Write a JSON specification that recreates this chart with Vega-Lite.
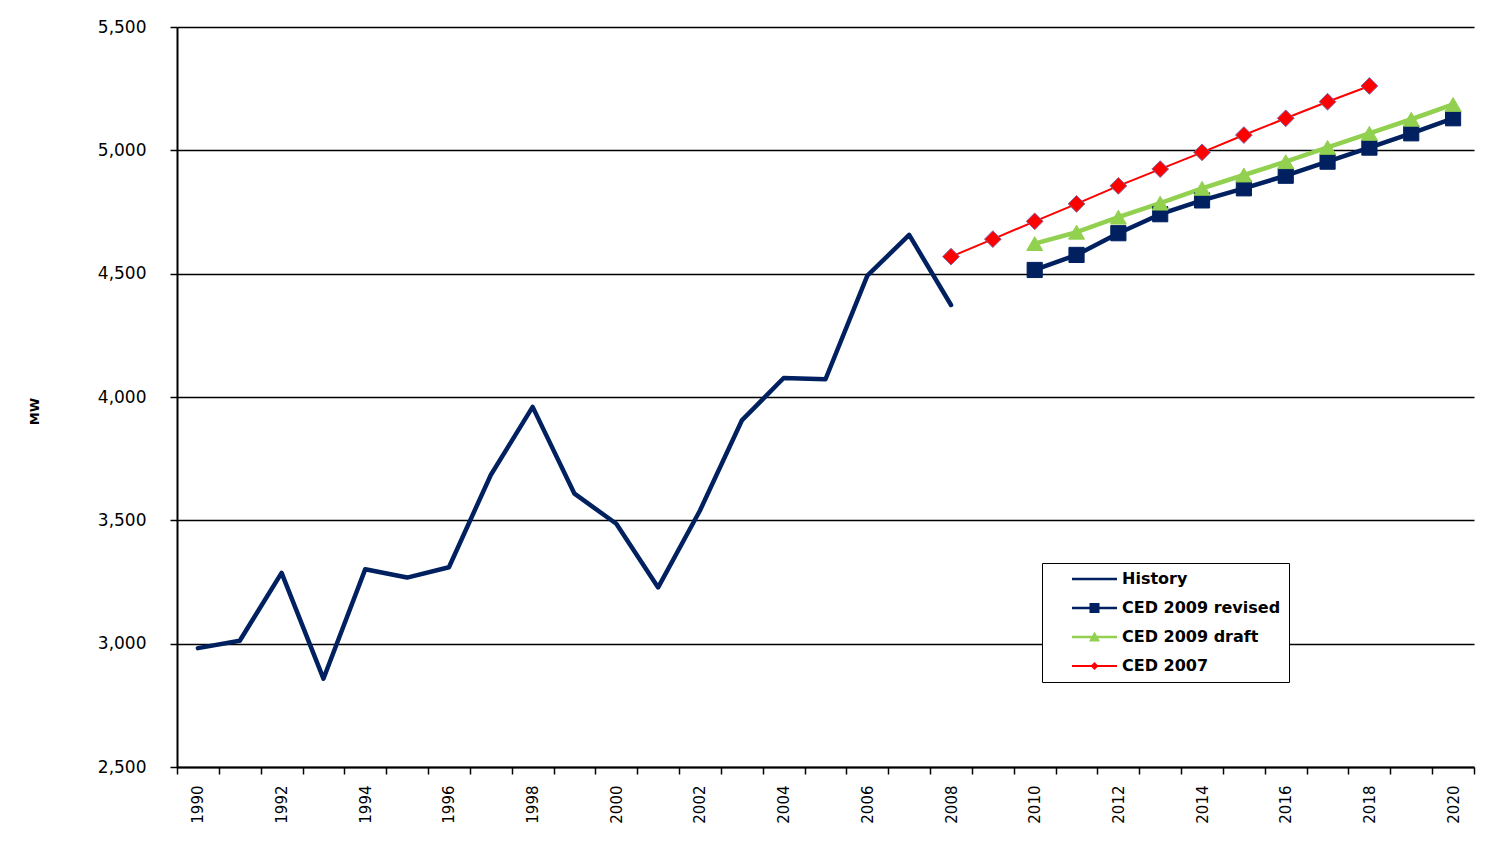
{
  "$schema": "https://vega.github.io/schema/vega-lite/v6.json",
  "width": 1297,
  "height": 740,
  "autosize": {"type": "none"},
  "padding": {"left": 177, "top": 27, "right": 31, "bottom": 76},
  "background": "white",
  "config": {"view": {"stroke": null}, "font": "DejaVu Sans"},
  "data": {"values": [
    {"year": 1990, "series": "History", "value": 2982},
    {"year": 1991, "series": "History", "value": 3012},
    {"year": 1992, "series": "History", "value": 3287},
    {"year": 1993, "series": "History", "value": 2858},
    {"year": 1994, "series": "History", "value": 3302},
    {"year": 1995, "series": "History", "value": 3268},
    {"year": 1996, "series": "History", "value": 3310},
    {"year": 1997, "series": "History", "value": 3684},
    {"year": 1998, "series": "History", "value": 3960},
    {"year": 1999, "series": "History", "value": 3608},
    {"year": 2000, "series": "History", "value": 3486},
    {"year": 2001, "series": "History", "value": 3228},
    {"year": 2002, "series": "History", "value": 3540},
    {"year": 2003, "series": "History", "value": 3905},
    {"year": 2004, "series": "History", "value": 4077},
    {"year": 2005, "series": "History", "value": 4072},
    {"year": 2006, "series": "History", "value": 4492},
    {"year": 2007, "series": "History", "value": 4657},
    {"year": 2008, "series": "History", "value": 4373},
    {"year": 2010, "series": "CED 2009 revised", "value": 4515},
    {"year": 2011, "series": "CED 2009 revised", "value": 4576},
    {"year": 2012, "series": "CED 2009 revised", "value": 4664},
    {"year": 2013, "series": "CED 2009 revised", "value": 4741},
    {"year": 2014, "series": "CED 2009 revised", "value": 4797},
    {"year": 2015, "series": "CED 2009 revised", "value": 4846},
    {"year": 2016, "series": "CED 2009 revised", "value": 4897},
    {"year": 2017, "series": "CED 2009 revised", "value": 4954},
    {"year": 2018, "series": "CED 2009 revised", "value": 5011},
    {"year": 2019, "series": "CED 2009 revised", "value": 5069},
    {"year": 2020, "series": "CED 2009 revised", "value": 5130},
    {"year": 2010, "series": "CED 2009 draft", "value": 4622},
    {"year": 2011, "series": "CED 2009 draft", "value": 4668},
    {"year": 2012, "series": "CED 2009 draft", "value": 4729},
    {"year": 2013, "series": "CED 2009 draft", "value": 4786},
    {"year": 2014, "series": "CED 2009 draft", "value": 4846},
    {"year": 2015, "series": "CED 2009 draft", "value": 4900},
    {"year": 2016, "series": "CED 2009 draft", "value": 4954},
    {"year": 2017, "series": "CED 2009 draft", "value": 5012},
    {"year": 2018, "series": "CED 2009 draft", "value": 5069},
    {"year": 2019, "series": "CED 2009 draft", "value": 5126},
    {"year": 2020, "series": "CED 2009 draft", "value": 5186},
    {"year": 2008, "series": "CED 2007", "value": 4569},
    {"year": 2009, "series": "CED 2007", "value": 4640},
    {"year": 2010, "series": "CED 2007", "value": 4712},
    {"year": 2011, "series": "CED 2007", "value": 4783},
    {"year": 2012, "series": "CED 2007", "value": 4856},
    {"year": 2013, "series": "CED 2007", "value": 4924},
    {"year": 2014, "series": "CED 2007", "value": 4992},
    {"year": 2015, "series": "CED 2007", "value": 5062},
    {"year": 2016, "series": "CED 2007", "value": 5130},
    {"year": 2017, "series": "CED 2007", "value": 5197},
    {"year": 2018, "series": "CED 2007", "value": 5261}
  ]},
  "layer": [
    {
      "transform": [{"filter": "datum.series !== 'CED 2007'"}],
      "mark": {"type": "line", "strokeCap": "round", "strokeJoin": "round", "strokeWidth": 4.5},
      "encoding": {
        "x": {
          "field": "year", "type": "ordinal",
          "scale": {"type": "band", "paddingInner": 0, "paddingOuter": 0},
          "axis": {
            "title": null, "labelAngle": -90, "labelAlign": "right", "labelBaseline": "middle",
            "labelFont": "DejaVu Sans", "labelFontSize": 15, "labelColor": "black", "labelPadding": 11,
            "labelExpr": "datum.value % 2 == 0 ? datum.label : ''",
            "labelOverlap": false, "labelFlush": false,
            "tickBand": "extent", "tickSize": 7, "tickColor": "black", "tickWidth": 1.5,
            "domainColor": "black", "domainWidth": 2, "grid": false
          }
        },
        "y": {
          "field": "value", "type": "quantitative",
          "scale": {"domain": [2500, 5500], "nice": false, "zero": false},
          "axis": {
            "title": "MW", "titleFont": "DejaVu Sans", "titleFontWeight": "bold", "titleFontSize": 13,
            "titleColor": "black", "titleX": -143, "titleY": 384, "titleAlign": "center", "titleBaseline": "middle",
            "values": [2500, 3000, 3500, 4000, 4500, 5000, 5500], "format": ",d",
            "labelFont": "DejaVu Sans", "labelFontSize": 17, "labelColor": "black", "labelPadding": 24,
            "tickSize": 7, "tickColor": "black", "tickWidth": 1.5,
            "domainColor": "black", "domainWidth": 2,
            "grid": true, "gridColor": "black", "gridWidth": 1.3, "gridOpacity": 1
          }
        },
        "color": {
          "field": "series", "type": "nominal",
          "scale": {"domain": ["History", "CED 2009 revised", "CED 2009 draft", "CED 2007"],
                    "range": ["#002060", "#002060", "#92D050", "#FF0000"]},
          "legend": {
            "orient": "none", "legendX": 865, "legendY": 536, "title": null,
            "padding": 8, "strokeColor": "black", "fillColor": "white", "cornerRadius": 0,
            "symbolSize": 100, "symbolOffset": 36.5, "labelOffset": 19.5,
            "symbolStrokeWidth": 0, "symbolStrokeColor": "transparent",
            "labelFont": "DejaVu Sans", "labelFontWeight": "bold", "labelFontSize": 16, "labelColor": "black",
            "labelExpr": "datum.label + '\u00a0\u00a0\u00a0\u00a0\u00a0\u00a0\u00a0\u00a0'",
            "rowPadding": 13, "labelLimit": 400,
            "encode": {
              "symbols": {
                "update": {
                  "shape": {"signal": "datum.value === 'History' ? 'M-4.5,-0.25H4.5V0.25H-4.5Z M0,-1.2V1.2' : datum.value === 'CED 2009 revised' ? 'M-4.5,-0.25H4.5V0.25H-4.5Z M-1,-1H1V1H-1Z M0,-1.2V1.2' : datum.value === 'CED 2009 draft' ? 'M-4.5,-0.25H4.5V0.25H-4.5Z M-1.1,0.9L0,-1.1L1.1,0.9Z M0,-1.2V1.2' : 'M-4.5,-0.2H4.5V0.2H-4.5Z M0,-0.8L0.8,0L0,0.8L-0.8,0Z M0,-1.2V1.2'"},
                  "fill": {"signal": "scale('color', datum.value)"},
                  "stroke": {"value": "transparent"},
                  "strokeWidth": {"value": 0},
                  "opacity": {"value": 1}
                }
              }
            }
          }
        }
      }
    },
    {
      "transform": [{"filter": "datum.series === 'CED 2007'"}],
      "mark": {"type": "line", "strokeCap": "round", "strokeJoin": "round", "strokeWidth": 2},
      "encoding": {
        "x": {"field": "year", "type": "ordinal"},
        "y": {"field": "value", "type": "quantitative"},
        "color": {"field": "series", "type": "nominal"}
      }
    },
    {
      "transform": [{"filter": "datum.series !== 'History'"}],
      "mark": {"type": "point", "filled": true, "opacity": 1, "strokeWidth": 1},
      "encoding": {
        "x": {"field": "year", "type": "ordinal"},
        "y": {"field": "value", "type": "quantitative"},
        "fill": {
          "field": "series", "type": "nominal",
          "scale": {"domain": ["CED 2009 revised", "CED 2009 draft", "CED 2007"], "range": ["#002060", "#92D050", "#FF0000"]},
          "legend": null
        },
        "stroke": {
          "field": "series", "type": "nominal",
          "scale": {"domain": ["CED 2009 revised", "CED 2009 draft", "CED 2007"], "range": ["#002060", "#92D050", "#8064A2"]},
          "legend": null
        },
        "shape": {
          "field": "series", "type": "nominal",
          "scale": {"domain": ["CED 2009 revised", "CED 2009 draft", "CED 2007"], "range": ["square", "triangle-up", "diamond"]},
          "legend": null
        },
        "size": {
          "field": "series", "type": "nominal",
          "scale": {"domain": ["CED 2009 revised", "CED 2009 draft", "CED 2007"], "range": [230, 280, 70]},
          "legend": null
        }
      }
    }
  ]
}
